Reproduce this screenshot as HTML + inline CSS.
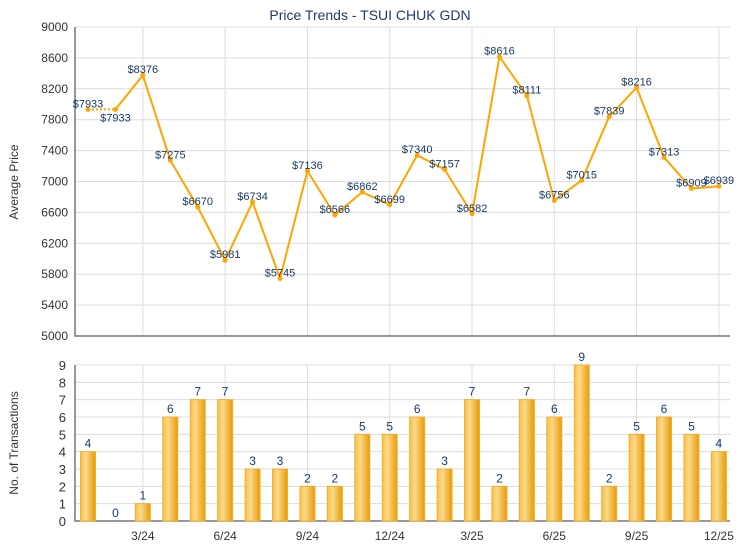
<!DOCTYPE html>
<html><head><meta charset="utf-8"><style>
body{margin:0;background:#fff;}
svg{display:block;font-family:"Liberation Sans",Arial,sans-serif;}
</style></head><body>
<svg id="s" width="740" height="550" xmlns="http://www.w3.org/2000/svg">
<defs>
<linearGradient id="g" x1="0" x2="1" y1="0" y2="0">
<stop offset="0" stop-color="#f5c04a"/><stop offset="0.35" stop-color="#fdd98a"/><stop offset="1" stop-color="#e89a06"/>
</linearGradient>
</defs>
</svg>
<script>
var s=document.getElementById('s'),h='';
var L=75,R=730,T1=27,B1=336,T2=365,B2=521;
var P=[7933,7933,8376,7275,6670,5981,6734,5745,7136,6566,6862,6699,7340,7157,6582,8616,8111,6756,7015,7839,8216,7313,6909,6939];
var C=[4,0,1,6,7,7,3,3,2,2,5,5,6,3,7,2,7,6,9,2,5,6,5,4];
function X(i){return 88+i*27.43;}
function Y1(v){return T1+(9000-v)/4000*(B1-T1);}
function Y2(v){return B2-v*(B2-T2)/9;}
h+='<text x="370" y="20" text-anchor="middle" font-size="14" fill="#223a66">Price Trends - TSUI CHUK GDN</text>';
for(var v=5000;v<=9000;v+=400){var y=Y1(v);h+='<line x1="'+L+'" x2="'+R+'" y1="'+y+'" y2="'+y+'" stroke="#dcdcdc"/>';h+='<text x="68" y="'+(y+4)+'" text-anchor="end" font-size="12" fill="#333">'+v+'</text>';}
var lab=['3/24','6/24','9/24','12/24','3/25','6/25','9/25','12/25'];
for(var k=0;k<8;k++){var x=X(2+3*k);h+='<line x1="'+x+'" x2="'+x+'" y1="'+T1+'" y2="'+B1+'" stroke="#dcdcdc"/><line x1="'+x+'" x2="'+x+'" y1="'+T2+'" y2="'+B2+'" stroke="#dcdcdc"/>';h+='<text x="'+x+'" y="540" text-anchor="middle" font-size="12" fill="#333">'+lab[k]+'</text>';}
for(var c=0;c<=9;c++){var y=Y2(c);h+='<line x1="'+L+'" x2="'+R+'" y1="'+y+'" y2="'+y+'" stroke="#dcdcdc"/>';h+='<text x="66" y="'+(y+5)+'" text-anchor="end" font-size="13" fill="#333">'+c+'</text>';}
h+='<path d="M'+L+' '+T1+'V'+B1+'H'+R+'" fill="none" stroke="#777" stroke-width="1.5"/>';
h+='<path d="M'+L+' '+T2+'V'+B2+'H'+R+'" fill="none" stroke="#777" stroke-width="1.5"/>';
h+='<text transform="translate(18,182) rotate(-90)" text-anchor="middle" font-size="12" fill="#333">Average Price</text>';
h+='<text transform="translate(18,443) rotate(-90)" text-anchor="middle" font-size="12" fill="#333">No. of Transactions</text>';
h+='<line x1="'+X(0)+'" y1="'+Y1(P[0])+'" x2="'+X(1)+'" y2="'+Y1(P[1])+'" stroke="#ffa500" stroke-width="2" stroke-dasharray="2,2"/>';
var d='M'+X(1)+' '+Y1(P[1]);for(var i=2;i<24;i++)d+='L'+X(i)+' '+Y1(P[i]);
h+='<path d="'+d+'" fill="none" stroke="#ffa500" stroke-width="2"/>';
for(var i=0;i<24;i++){var x=X(i),y=Y1(P[i]);h+='<circle cx="'+x+'" cy="'+y+'" r="2.5" fill="#ffa500"/>';}
for(var i=0;i<24;i++){var x=X(i),y=Y1(P[i]);var ty=(i==1)?y+12:y-2;
h+='<text x="'+x+'" y="'+ty+'" text-anchor="middle" font-size="11" fill="#1a3a66">$'+P[i]+'</text>';}
for(var i=0;i<24;i++){var x=X(i),y=Y2(C[i]);if(C[i]>0)h+='<rect x="'+(x-7.5)+'" y="'+y+'" width="15" height="'+(B2-y)+'" fill="url(#g)" stroke="#f0b030" stroke-width="1"/>';
h+='<text x="'+x+'" y="'+(y-4)+'" text-anchor="middle" font-size="12" fill="#1a3a66">'+C[i]+'</text>';}
s.innerHTML+=h;
</script>
</body></html>
